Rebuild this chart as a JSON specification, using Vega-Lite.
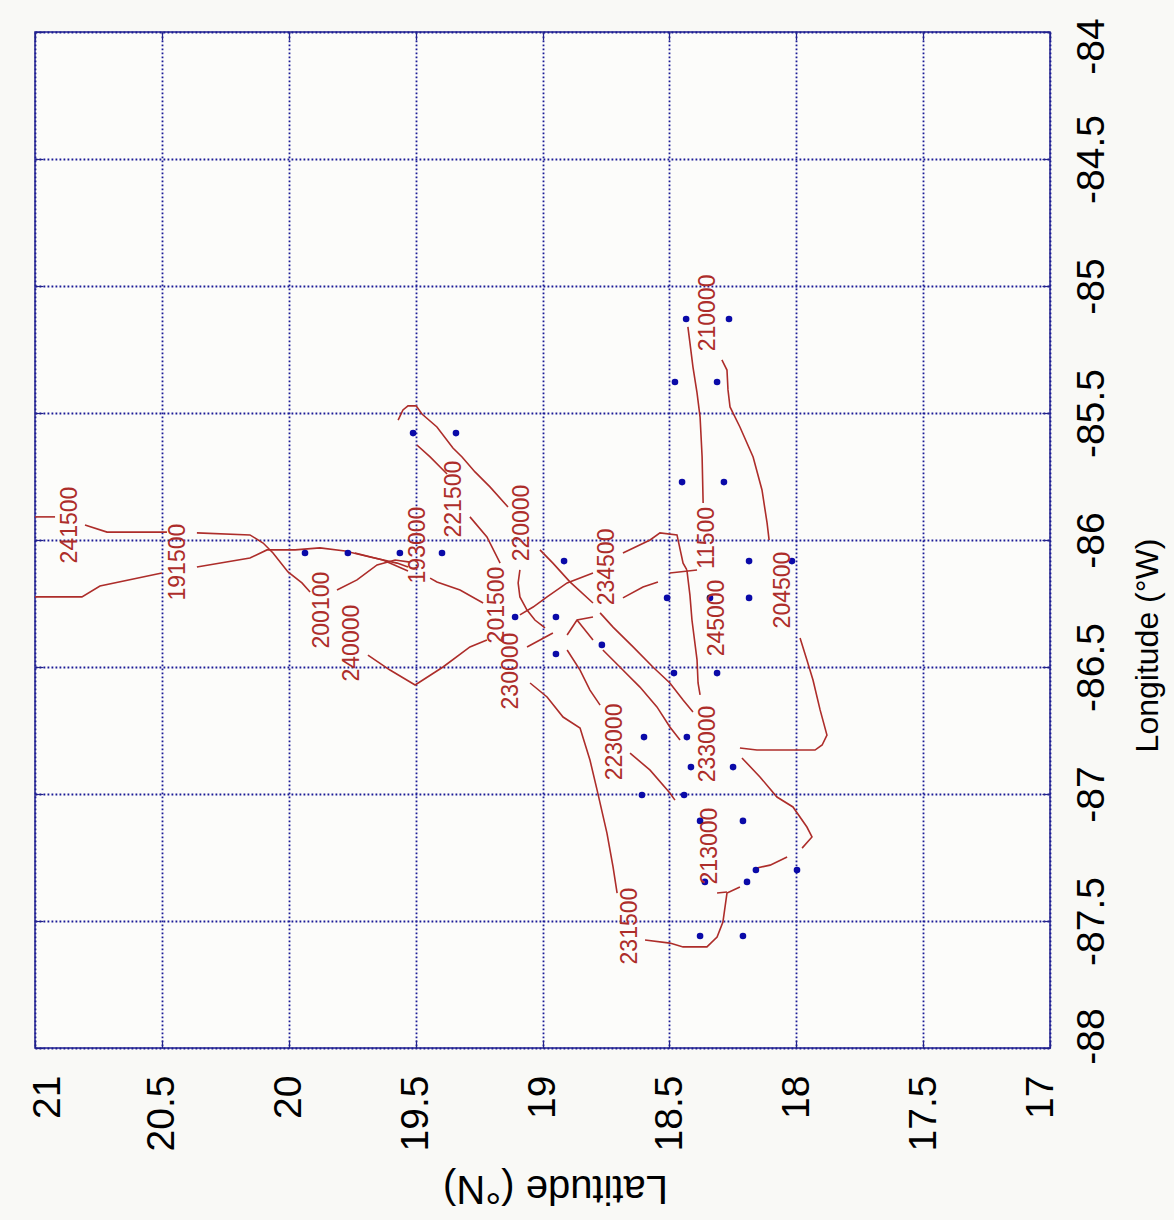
{
  "$schema": "https://vega.github.io/schema/vega-lite/v6.json",
  "width": 1015,
  "height": 1016,
  "autosize": {"type": "none"},
  "padding": {"left": 35, "top": 32, "right": 124, "bottom": 172},
  "background": "#f9f9f6",
  "config": {
    "view": {"stroke": "#22228c", "strokeWidth": 1.5, "fill": "#fcfcfa"},
    "font": "Liberation Sans"
  },
  "datasets": {
    "dots": [
      {"lat": 19.936, "lon": -86.051}, {"lat": 19.767, "lon": -86.051}, {"lat": 19.562, "lon": -86.051}, {"lat": 19.396, "lon": -86.051},
      {"lat": 19.510, "lon": -85.579}, {"lat": 19.341, "lon": -85.579},
      {"lat": 19.108, "lon": -86.303}, {"lat": 18.947, "lon": -86.303}, {"lat": 18.947, "lon": -86.449},
      {"lat": 18.915, "lon": -86.083}, {"lat": 18.766, "lon": -86.413},
      {"lat": 18.450, "lon": -85.772}, {"lat": 18.285, "lon": -85.772},
      {"lat": 18.186, "lon": -86.083}, {"lat": 18.017, "lon": -86.083},
      {"lat": 18.509, "lon": -86.228}, {"lat": 18.340, "lon": -86.228}, {"lat": 18.186, "lon": -86.228},
      {"lat": 18.482, "lon": -86.524}, {"lat": 18.312, "lon": -86.524},
      {"lat": 18.434, "lon": -85.130}, {"lat": 18.265, "lon": -85.130},
      {"lat": 18.478, "lon": -85.378}, {"lat": 18.312, "lon": -85.378},
      {"lat": 18.600, "lon": -86.776}, {"lat": 18.431, "lon": -86.776},
      {"lat": 18.415, "lon": -86.894}, {"lat": 18.249, "lon": -86.894},
      {"lat": 18.608, "lon": -87.004}, {"lat": 18.442, "lon": -87.004},
      {"lat": 18.379, "lon": -87.106}, {"lat": 18.210, "lon": -87.106},
      {"lat": 17.997, "lon": -87.299}, {"lat": 18.159, "lon": -87.299},
      {"lat": 18.360, "lon": -87.346}, {"lat": 18.194, "lon": -87.346},
      {"lat": 18.379, "lon": -87.559}, {"lat": 18.210, "lon": -87.559}
    ],
    "tracks": [
      {"s": "a1", "lat": 21.000, "lon": -85.909}, {"s": "a1", "lat": 20.921, "lon": -85.909},
      {"s": "a2", "lat": 20.803, "lon": -85.941}, {"s": "a2", "lat": 20.716, "lon": -85.969}, {"s": "a2", "lat": 20.480, "lon": -85.969},
      {"s": "a3", "lat": 20.362, "lon": -85.972}, {"s": "a3", "lat": 20.153, "lon": -85.980}, {"s": "a3", "lat": 20.101, "lon": -86.012}, {"s": "a3", "lat": 20.062, "lon": -86.051}, {"s": "a3", "lat": 20.003, "lon": -86.126}, {"s": "a3", "lat": 19.948, "lon": -86.169}, {"s": "a3", "lat": 19.916, "lon": -86.205},
      {"s": "b1", "lat": 21.000, "lon": -86.224}, {"s": "b1", "lat": 20.815, "lon": -86.224}, {"s": "b1", "lat": 20.744, "lon": -86.181}, {"s": "b1", "lat": 20.500, "lon": -86.130},
      {"s": "b2", "lat": 20.362, "lon": -86.106}, {"s": "b2", "lat": 20.153, "lon": -86.071}, {"s": "b2", "lat": 20.086, "lon": -86.039}, {"s": "b2", "lat": 19.975, "lon": -86.039}, {"s": "b2", "lat": 19.877, "lon": -86.031}, {"s": "b2", "lat": 19.778, "lon": -86.043}, {"s": "b2", "lat": 19.680, "lon": -86.067}, {"s": "b2", "lat": 19.573, "lon": -86.091}, {"s": "b2", "lat": 19.530, "lon": -86.106},
      {"s": "b3", "lat": 19.739, "lon": -86.051}, {"s": "b3", "lat": 19.629, "lon": -86.079}, {"s": "b3", "lat": 19.530, "lon": -86.122},
      {"s": "c1", "lat": 19.810, "lon": -86.197}, {"s": "c1", "lat": 19.731, "lon": -86.157}, {"s": "c1", "lat": 19.652, "lon": -86.098}, {"s": "c1", "lat": 19.581, "lon": -86.079}, {"s": "c1", "lat": 19.522, "lon": -86.087},
      {"s": "c2", "lat": 19.688, "lon": -86.453}, {"s": "c2", "lat": 19.601, "lon": -86.512}, {"s": "c2", "lat": 19.502, "lon": -86.571}, {"s": "c2", "lat": 19.392, "lon": -86.500}, {"s": "c2", "lat": 19.286, "lon": -86.421}, {"s": "c2", "lat": 19.219, "lon": -86.394},
      {"s": "d", "lat": 19.443, "lon": -86.150}, {"s": "d", "lat": 19.416, "lon": -86.165}, {"s": "d", "lat": 19.325, "lon": -86.197}, {"s": "d", "lat": 19.234, "lon": -86.248},
      {"s": "e1", "lat": 19.376, "lon": -85.740}, {"s": "e1", "lat": 19.443, "lon": -85.673}, {"s": "e1", "lat": 19.495, "lon": -85.626},
      {"s": "e2", "lat": 19.569, "lon": -85.528}, {"s": "e2", "lat": 19.550, "lon": -85.488}, {"s": "e2", "lat": 19.530, "lon": -85.472}, {"s": "e2", "lat": 19.498, "lon": -85.472}, {"s": "e2", "lat": 19.475, "lon": -85.504}, {"s": "e2", "lat": 19.416, "lon": -85.555}, {"s": "e2", "lat": 19.353, "lon": -85.638}, {"s": "e2", "lat": 19.317, "lon": -85.673}, {"s": "e2", "lat": 19.266, "lon": -85.732}, {"s": "e2", "lat": 19.207, "lon": -85.791}, {"s": "e2", "lat": 19.136, "lon": -85.870},
      {"s": "f", "lat": 19.286, "lon": -85.909}, {"s": "f", "lat": 19.219, "lon": -85.988}, {"s": "f", "lat": 19.167, "lon": -86.091},
      {"s": "g", "lat": 19.010, "lon": -86.039}, {"s": "g", "lat": 18.959, "lon": -86.091}, {"s": "g", "lat": 18.892, "lon": -86.165}, {"s": "g", "lat": 18.801, "lon": -86.248},
      {"s": "h", "lat": 19.089, "lon": -86.118}, {"s": "h", "lat": 19.096, "lon": -86.169}, {"s": "h", "lat": 19.089, "lon": -86.224}, {"s": "h", "lat": 19.061, "lon": -86.276}, {"s": "h", "lat": 19.030, "lon": -86.315}, {"s": "h", "lat": 18.990, "lon": -86.346},
      {"s": "i", "lat": 18.801, "lon": -86.130}, {"s": "i", "lat": 18.903, "lon": -86.169}, {"s": "i", "lat": 18.982, "lon": -86.224}, {"s": "i", "lat": 19.037, "lon": -86.264}, {"s": "i", "lat": 19.089, "lon": -86.295},
      {"s": "j1", "lat": 18.903, "lon": -86.374}, {"s": "j1", "lat": 18.864, "lon": -86.315}, {"s": "j1", "lat": 18.801, "lon": -86.303},
      {"s": "j2", "lat": 18.864, "lon": -86.315}, {"s": "j2", "lat": 18.801, "lon": -86.394},
      {"s": "k", "lat": 19.061, "lon": -86.421}, {"s": "k", "lat": 19.010, "lon": -86.394}, {"s": "k", "lat": 18.959, "lon": -86.366},
      {"s": "l", "lat": 18.903, "lon": -86.433}, {"s": "l", "lat": 18.852, "lon": -86.512}, {"s": "l", "lat": 18.813, "lon": -86.591}, {"s": "l", "lat": 18.773, "lon": -86.650},
      {"s": "m", "lat": 18.773, "lon": -86.287}, {"s": "m", "lat": 18.722, "lon": -86.343}, {"s": "m", "lat": 18.643, "lon": -86.421}, {"s": "m", "lat": 18.565, "lon": -86.500}, {"s": "m", "lat": 18.498, "lon": -86.563}, {"s": "m", "lat": 18.446, "lon": -86.630}, {"s": "m", "lat": 18.407, "lon": -86.677},
      {"s": "n", "lat": 18.762, "lon": -86.433}, {"s": "n", "lat": 18.695, "lon": -86.500}, {"s": "n", "lat": 18.616, "lon": -86.579}, {"s": "n", "lat": 18.549, "lon": -86.657}, {"s": "n", "lat": 18.498, "lon": -86.736}, {"s": "n", "lat": 18.458, "lon": -86.787},
      {"s": "o", "lat": 18.655, "lon": -86.839}, {"s": "o", "lat": 18.576, "lon": -86.906}, {"s": "o", "lat": 18.498, "lon": -86.996}, {"s": "o", "lat": 18.478, "lon": -87.024},
      {"s": "p", "lat": 19.049, "lon": -86.563}, {"s": "p", "lat": 18.982, "lon": -86.618}, {"s": "p", "lat": 18.919, "lon": -86.697}, {"s": "p", "lat": 18.852, "lon": -86.740}, {"s": "p", "lat": 18.813, "lon": -86.866}, {"s": "p", "lat": 18.785, "lon": -86.984}, {"s": "p", "lat": 18.746, "lon": -87.154}, {"s": "p", "lat": 18.722, "lon": -87.287}, {"s": "p", "lat": 18.706, "lon": -87.390},
      {"s": "q", "lat": 18.596, "lon": -87.575}, {"s": "q", "lat": 18.498, "lon": -87.587}, {"s": "q", "lat": 18.446, "lon": -87.602}, {"s": "q", "lat": 18.352, "lon": -87.602}, {"s": "q", "lat": 18.312, "lon": -87.563}, {"s": "q", "lat": 18.289, "lon": -87.504}, {"s": "q", "lat": 18.273, "lon": -87.390}, {"s": "q", "lat": 18.222, "lon": -87.366},
      {"s": "q2", "lat": 18.312, "lon": -87.390}, {"s": "q2", "lat": 18.273, "lon": -87.386},
      {"s": "r", "lat": 18.155, "lon": -87.291}, {"s": "r", "lat": 18.103, "lon": -87.280}, {"s": "r", "lat": 18.036, "lon": -87.248},
      {"s": "s", "lat": 17.985, "lon": -86.386}, {"s": "s", "lat": 17.958, "lon": -86.472}, {"s": "s", "lat": 17.934, "lon": -86.551}, {"s": "s", "lat": 17.906, "lon": -86.669}, {"s": "s", "lat": 17.879, "lon": -86.768}, {"s": "s", "lat": 17.898, "lon": -86.807}, {"s": "s", "lat": 17.926, "lon": -86.827}, {"s": "s", "lat": 18.155, "lon": -86.827}, {"s": "s", "lat": 18.222, "lon": -86.819},
      {"s": "t", "lat": 18.214, "lon": -86.858}, {"s": "t", "lat": 18.143, "lon": -86.933}, {"s": "t", "lat": 18.076, "lon": -87.012}, {"s": "t", "lat": 18.013, "lon": -87.051}, {"s": "t", "lat": 17.958, "lon": -87.130}, {"s": "t", "lat": 17.938, "lon": -87.169}, {"s": "t", "lat": 17.977, "lon": -87.213},
      {"s": "u", "lat": 18.427, "lon": -85.161}, {"s": "u", "lat": 18.419, "lon": -85.224}, {"s": "u", "lat": 18.407, "lon": -85.319}, {"s": "u", "lat": 18.391, "lon": -85.421}, {"s": "u", "lat": 18.379, "lon": -85.516}, {"s": "u", "lat": 18.371, "lon": -85.673}, {"s": "u", "lat": 18.367, "lon": -85.854},
      {"s": "v", "lat": 18.431, "lon": -86.118}, {"s": "v", "lat": 18.419, "lon": -86.217}, {"s": "v", "lat": 18.411, "lon": -86.315}, {"s": "v", "lat": 18.391, "lon": -86.472}, {"s": "v", "lat": 18.387, "lon": -86.563}, {"s": "v", "lat": 18.379, "lon": -86.610},
      {"s": "w", "lat": 18.683, "lon": -86.051}, {"s": "w", "lat": 18.576, "lon": -86.000}, {"s": "w", "lat": 18.537, "lon": -85.972}, {"s": "w", "lat": 18.470, "lon": -85.980}, {"s": "w", "lat": 18.446, "lon": -86.091}, {"s": "w", "lat": 18.431, "lon": -86.118},
      {"s": "w2", "lat": 18.498, "lon": -86.130}, {"s": "w2", "lat": 18.391, "lon": -86.118},
      {"s": "x", "lat": 18.683, "lon": -86.228}, {"s": "x", "lat": 18.604, "lon": -86.185}, {"s": "x", "lat": 18.545, "lon": -86.165},
      {"s": "y", "lat": 18.293, "lon": -85.291}, {"s": "y", "lat": 18.273, "lon": -85.331}, {"s": "y", "lat": 18.269, "lon": -85.409}, {"s": "y", "lat": 18.261, "lon": -85.476}, {"s": "y", "lat": 18.222, "lon": -85.555}, {"s": "y", "lat": 18.170, "lon": -85.673}, {"s": "y", "lat": 18.135, "lon": -85.803}, {"s": "y", "lat": 18.115, "lon": -85.933}, {"s": "y", "lat": 18.107, "lon": -86.000}
    ],
    "labels": [
      {"t": "241500", "lat": 20.862, "lon": -85.941},
      {"t": "191500", "lat": 20.436, "lon": -86.087},
      {"t": "200100", "lat": 19.869, "lon": -86.276},
      {"t": "240000", "lat": 19.751, "lon": -86.406},
      {"t": "193000", "lat": 19.491, "lon": -86.020},
      {"t": "221500", "lat": 19.349, "lon": -85.839},
      {"t": "220000", "lat": 19.081, "lon": -85.933},
      {"t": "201500", "lat": 19.179, "lon": -86.256},
      {"t": "230000", "lat": 19.124, "lon": -86.516},
      {"t": "234500", "lat": 18.746, "lon": -86.106},
      {"t": "223000", "lat": 18.714, "lon": -86.795},
      {"t": "231500", "lat": 18.655, "lon": -87.520},
      {"t": "233000", "lat": 18.348, "lon": -86.803},
      {"t": "213000", "lat": 18.340, "lon": -87.205},
      {"t": "245000", "lat": 18.312, "lon": -86.307},
      {"t": "11500", "lat": 18.352, "lon": -85.992},
      {"t": "204500", "lat": 18.052, "lon": -86.197},
      {"t": "210000", "lat": 18.348, "lon": -85.106}
    ]
  },
  "layer": [
    {
      "data": {"name": "tracks"},
      "mark": {"type": "line", "color": "#ad2d2a", "strokeWidth": 1.6},
      "encoding": {
        "x": {
          "field": "lat", "type": "quantitative",
          "scale": {"domain": [17, 21], "reverse": true, "nice": false, "zero": false},
          "axis": {
            "orient": "bottom",
            "values": [17, 17.5, 18, 18.5, 19, 19.5, 20, 20.5, 21],
            "labelExpr": "'' + datum.value",
            "labelAngle": -90, "labelFontSize": 39, "labelColor": "#000000", "labelFont": "Liberation Sans",
            "labelPadding": 35, "labelFlush": false, "labelOverlap": false,
            "labelOffset": {"condition": [{"test": "datum.value == 21", "value": 12}, {"test": "datum.value == 17", "value": -10}], "value": 0},
            "ticks": true, "tickSize": -8, "tickColor": "#22228c", "tickWidth": 1.2,
            "domain": false,
            "grid": true, "gridColor": "#1a1a96", "gridDash": [1.8, 2.2], "gridWidth": 1.8, "gridOpacity": 1,
            "title": "Latitude (°N)", "titleAngle": 180, "titleFontSize": 40, "titleFontWeight": "normal",
            "titleColor": "#000000", "titleFont": "Liberation Sans",
            "titleAlign": "center", "titleBaseline": "middle", "titleX": 520, "titleY": 139
          }
        },
        "y": {
          "field": "lon", "type": "quantitative",
          "scale": {"domain": [-88, -84], "nice": false, "zero": false},
          "axis": {
            "orient": "right",
            "values": [-88, -87.5, -87, -86.5, -86, -85.5, -85, -84.5, -84],
            "labelExpr": "'' + datum.value",
            "labelAngle": -90, "labelAlign": "center", "labelBaseline": "top",
            "labelFontSize": 39, "labelColor": "#000000", "labelFont": "Liberation Sans",
            "labelPadding": 30, "labelFlush": false, "labelOverlap": false,
            "labelOffset": {"condition": [{"test": "datum.value == -84", "value": 14}, {"test": "datum.value == -88", "value": -12}], "value": 0},
            "ticks": true, "tickSize": -8, "tickColor": "#22228c", "tickWidth": 1.2,
            "domain": false,
            "grid": true, "gridColor": "#1a1a96", "gridDash": [1.8, 2.2], "gridWidth": 1.8, "gridOpacity": 1,
            "title": "Longitude (°W)", "titleAngle": -90, "titleFontSize": 32, "titleFontWeight": "normal",
            "titleColor": "#000000", "titleFont": "Liberation Sans",
            "titleAlign": "center", "titleBaseline": "middle", "titleX": 97, "titleY": 613
          }
        },
        "detail": {"field": "s", "type": "nominal"},
        "order": {"value": null}
      }
    },
    {
      "data": {"name": "dots"},
      "mark": {"type": "circle", "color": "#0a0aa8", "size": 44, "opacity": 1},
      "encoding": {
        "x": {
          "field": "lat", "type": "quantitative",
          "axis": {
            "orient": "top", "values": [17, 17.5, 18, 18.5, 19, 19.5, 20, 20.5, 21],
            "labels": false, "ticks": true, "tickSize": -8, "tickColor": "#22228c", "tickWidth": 1.2,
            "domain": false, "grid": false, "title": null
          }
        },
        "y": {
          "field": "lon", "type": "quantitative",
          "axis": {
            "orient": "left", "values": [-88, -87.5, -87, -86.5, -86, -85.5, -85, -84.5, -84],
            "labels": false, "ticks": true, "tickSize": -8, "tickColor": "#22228c", "tickWidth": 1.2,
            "domain": false, "grid": false, "title": null
          }
        }
      }
    },
    {
      "data": {"name": "labels"},
      "mark": {"type": "text", "angle": 270, "color": "#ad2d2a", "fontSize": 23, "font": "Liberation Sans", "align": "center", "baseline": "middle"},
      "encoding": {
        "x": {"field": "lat", "type": "quantitative", "axis": null},
        "y": {"field": "lon", "type": "quantitative", "axis": null},
        "text": {"field": "t", "type": "nominal"}
      }
    }
  ],
  "resolve": {"axis": {"x": "independent", "y": "independent"}}
}
